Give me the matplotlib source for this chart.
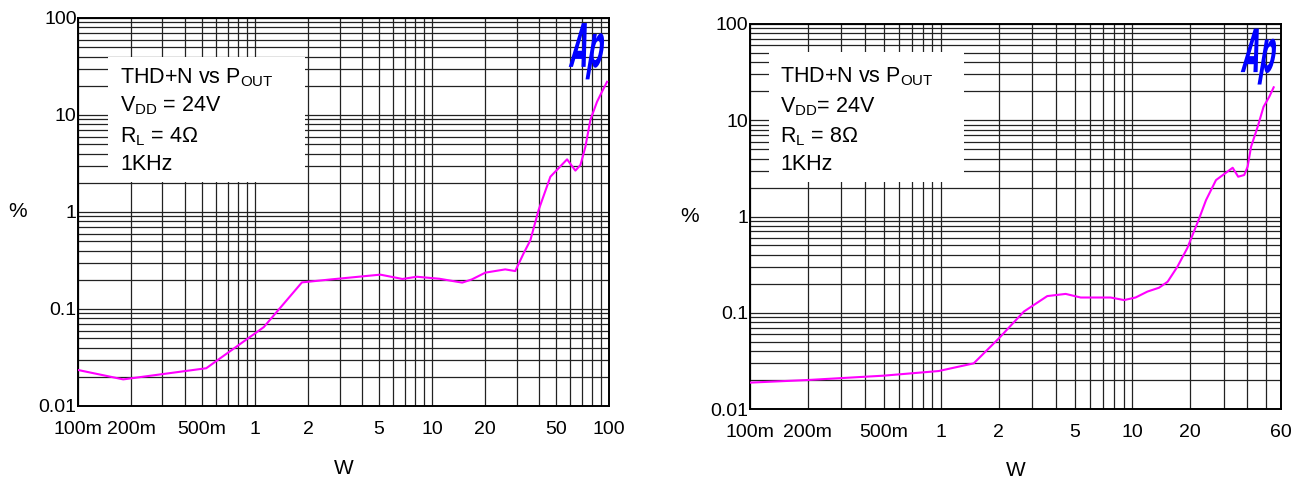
#!/usr/bin/env python

import numpy as np
import matplotlib
matplotlib.use('Agg')
import matplotlib.pyplot as plt
from matplotlib.ticker import LogLocator, NullFormatter
from matplotlib.patches import Rectangle, PathPatch
from matplotlib.textpath import TextPath
from matplotlib.font_manager import FontProperties
from matplotlib.transforms import Affine2D

plt.rcParams['font.family'] = ['Liberation Sans', 'DejaVu Sans']
plt.rcParams['mathtext.fontset'] = 'custom'
plt.rcParams['mathtext.rm'] = 'Liberation Sans'
plt.rcParams['mathtext.it'] = 'Liberation Sans:italic'
plt.rcParams['mathtext.bf'] = 'Liberation Sans:bold'

# THD+N vs output power, 4 ohm load (W, %)
p_4ohm = [0.1, 0.18, 0.53, 1.12, 1.84, 2.7, 5.1, 6.8, 8.2, 11.0, 14.8, 16.8,
          20.0, 25.9, 29.5, 32.9, 35.9, 40.0, 46.6, 57.9, 64.5, 68.9, 73.5,
          78.4, 85.5, 91.2, 97.4]
thd_4ohm = [0.0235, 0.0188, 0.0245, 0.065, 0.188, 0.202, 0.226, 0.204, 0.215,
            0.205, 0.187, 0.202, 0.237, 0.256, 0.246, 0.375, 0.51, 1.05, 2.31,
            3.49, 2.67, 3.05, 4.71, 8.9, 13.7, 17.4, 22.0]

# THD+N vs output power, 8 ohm load (W, %)
p_8ohm = [0.1, 0.2, 0.5, 0.97, 1.48, 2.0, 2.71, 3.59, 4.48, 5.37, 7.7, 9.06,
          10.4, 12.0, 13.8, 15.3, 17.2, 19.4, 22.4, 24.3, 27.4, 33.5, 35.8,
          38.5, 40.1, 41.8, 45.3, 48.6, 52.1, 54.9]
thd_8ohm = [0.0188, 0.02, 0.0222, 0.0248, 0.0298, 0.054, 0.103, 0.149, 0.157,
            0.144, 0.144, 0.1355, 0.144, 0.166, 0.182, 0.21, 0.30, 0.47, 0.96,
            1.48, 2.39, 3.21, 2.59, 2.7, 3.29, 5.3, 8.6, 13.8, 17.6, 22.0]

xticks_4ohm = [0.1, 0.2, 0.5, 1, 2, 5, 10, 20, 50, 100]
xlabels_4ohm = ['100m', '200m', '500m', '1', '2', '5', '10', '20', '50', '100']
xticks_8ohm = [0.1, 0.2, 0.5, 1, 2, 5, 10, 20, 60]
xlabels_8ohm = ['100m', '200m', '500m', '1', '2', '5', '10', '20', '60']
yticks = [0.01, 0.1, 1, 10, 100]
ylabels = ['0.01', '0.1', '1', '10', '100']

lines_4ohm = ['THD+N vs P$_\\mathrm{OUT}$', 'V$_\\mathrm{DD}$ = 24V',
              'R$_\\mathrm{L}$ = 4\u03a9', '1KHz']
lines_8ohm = ['THD+N vs P$_\\mathrm{OUT}$', 'V$_\\mathrm{DD}$= 24V',
              'R$_\\mathrm{L}$ = 8\u03a9', '1KHz']

# condensed look for the tick numbers if a narrow face is around
tickfont = 'Liberation Sans'
try:
    import matplotlib.font_manager as fm
    fm.findfont(FontProperties(family='Liberation Sans Narrow'),
                fallback_to_default=False)
    tickfont = 'Liberation Sans Narrow'
except Exception:
    pass

figure = plt.figure(figsize=(12.94, 4.8), dpi=100)


def ap_logo(ax, x0, y0, w, h):
    # squashed, slanted bold "Ap" mark drawn as a path in axes fraction
    prop = FontProperties(family='DejaVu Sans', weight='bold')
    tp = TextPath((0, 0), 'Ap', size=1, prop=prop)
    cap = TextPath((0, 0), 'A', size=1, prop=prop).get_extents().height
    ext = tp.get_extents()
    tr = (Affine2D().translate(-ext.x0, 0).scale(w / ext.width, h / cap)
          .skew(np.arctan(0.12), 0).translate(x0, y0) + ax.transAxes)
    ax.add_patch(PathPatch(tp, transform=tr, facecolor='#0000FF', lw=0,
                           zorder=5, clip_on=False))


def thd_panel(rect, p, thd, xmax, xticks, xlabels, lines, box, text_x, text_y,
              logo_y):
    ax = figure.add_axes(rect)
    ax.set_xscale('log')
    ax.set_yscale('log')
    ax.set_xlim(0.1, xmax)
    ax.set_ylim(0.01, 100)
    ax.set_axisbelow(True)

    ax.set_xticks(xticks)
    ax.set_xticklabels(xlabels)
    ax.xaxis.set_minor_locator(LogLocator(base=10, subs=np.arange(2, 10)))
    ax.xaxis.set_minor_formatter(NullFormatter())
    ax.set_yticks(yticks)
    ax.set_yticklabels(ylabels)
    ax.yaxis.set_minor_locator(LogLocator(base=10, subs=np.arange(2, 10),
                                          numticks=20))
    ax.yaxis.set_minor_formatter(NullFormatter())

    ax.tick_params(which='both', length=0)
    ax.tick_params(axis='x', pad=11, labelsize=14)
    ax.tick_params(axis='y', pad=1, labelsize=14)
    for lab in ax.get_xticklabels() + ax.get_yticklabels():
        lab.set_family(tickfont)

    ax.grid(True, which='both', color='#222222', lw=0.9)
    for s in ax.spines.values():
        s.set_linewidth(1.4)
        s.set_color('black')

    ax.plot(p, thd, color='#FF00FF', lw=1.5, zorder=3)

    # white legend panel over the grid
    ax.add_patch(Rectangle((box[0], box[1]), box[2], box[3],
                           transform=ax.transAxes, facecolor='white',
                           edgecolor='none', zorder=2))
    for i in range(len(lines)):
        ax.text(text_x, text_y[i], lines[i], transform=ax.transAxes,
                fontsize=15.5, va='baseline', ha='left', zorder=4)

    ap_logo(ax, 0.924, logo_y, 0.060, 0.113)

    ax.set_xlabel('W', fontsize=15)
    ax.xaxis.set_label_coords(0.5, -0.16)
    ax.xaxis.label.set_va('center')
    ax.set_ylabel('%', fontsize=15, rotation=0, va='center', ha='center')
    ax.yaxis.set_label_coords(-0.114, 0.5)
    return ax


thd_panel((0.0603, 0.1542, 0.4104, 0.8083), p_4ohm, thd_4ohm, 100,
          xticks_4ohm, xlabels_4ohm, lines_4ohm,
          (0.0565, 0.577, 0.371, 0.3225), 0.079,
          [0.8325, 0.758, 0.680, 0.608], 0.874)

thd_panel((0.5796, 0.1479, 0.4104, 0.8021), p_8ohm, thd_8ohm, 60,
          xticks_8ohm, xlabels_8ohm, lines_8ohm,
          (0.036, 0.59, 0.367, 0.337), 0.0565,
          [0.849, 0.771, 0.6935, 0.621], 0.875)

figure.savefig('out.png', dpi=100)
